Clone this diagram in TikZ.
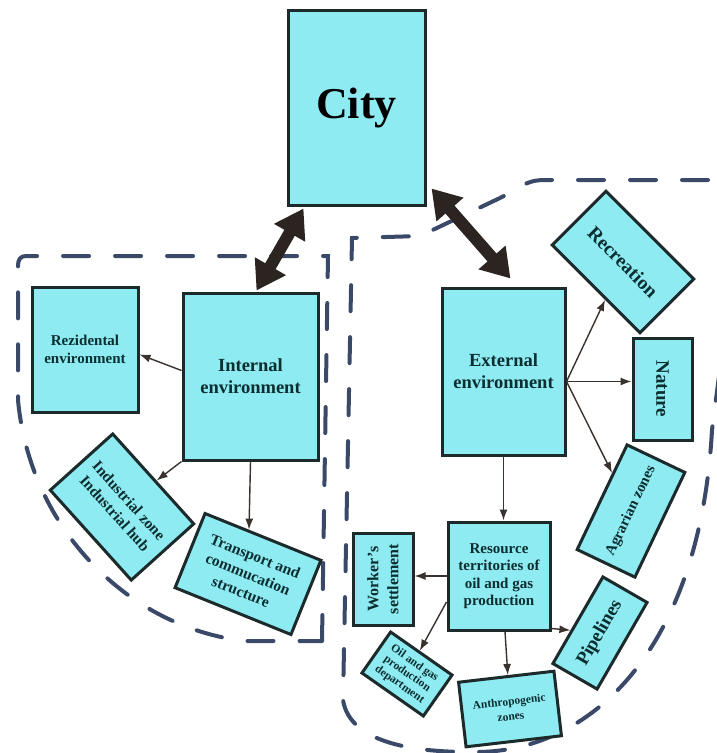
\documentclass[tikz,border=0pt]{standalone}
\usepackage{fontspec}
\setmainfont{Liberation Serif}
\usetikzlibrary{arrows.meta,calc}
\definecolor{boxfill}{HTML}{8FEBF2}
\definecolor{boxline}{HTML}{1C2A2B}
\definecolor{txtcol}{HTML}{0B2E30}
\definecolor{boundcol}{HTML}{3B4968}
\definecolor{thickcol}{HTML}{2B2420}
\definecolor{thincol}{HTML}{3A322E}
\begin{document}
\begin{tikzpicture}[x=1pt,y=-1pt,
  box/.style={draw=boxline, line width=3pt, fill=boxfill, text=txtcol, align=center, inner sep=0pt},
  fs/.style n args={2}{font=\bfseries\fontsize{#1}{#2}\selectfont},
  thinarrow/.style={draw=thincol, line width=1.4pt, -{Latex[length=11pt,width=8pt]}},
  bigarrow/.style={draw=thickcol, line width=12pt, {Triangle[length=28pt,width=34pt]}-{Triangle[length=28pt,width=34pt]}},
  boundary/.style={draw=boundcol, line width=4pt, dash pattern=on 26pt off 26pt, line cap=round}]
\useasboundingbox (0,0) rectangle (717,753);
\fill[white] (0,0) rectangle (717,753);
\begin{scope}
\clip (0,0) rectangle (717,753);
% left region
\draw[boundary] (322,641) -- (328,256) -- (26,256) .. controls (20,256) and (18,260) .. (18,266) -- (18,400)
  .. controls (30,530) and (130,628) .. (245,641) -- cycle;
% right region
\draw[boundary] (760,180) -- (545,180) .. controls (525,180) and (520,188) .. (500,198) -- (420,236) -- (352,238)
  -- (343,700) .. controls (350,745) and (420,752) .. (470,752)
  .. controls (590,755) and (700,650) .. (712,430) -- (725,330);
\end{scope}

% nodes
\node[box, minimum width=137pt, minimum height=195pt, text=black, fs={44}{50}] (city) at (356.5,107.5) {City};
\node[box, minimum width=135pt, minimum height=167pt, fs={18.5}{22}] (intern) at (250.5,376.5) {Internal\\environment};
\node[box, minimum width=106pt, minimum height=125pt, fs={15}{18}] (rez) at (85,349.5) {Rezidental\\environment};
\node[box, minimum width=121pt, minimum height=84pt, fs={15.5}{19}, rotate=-48] (ind) at (122,507) {Industrial zone\\Industrial hub};
\node[box, minimum width=125pt, minimum height=80pt, fs={15.5}{19}, rotate=-22] (trans) at (248,574) {Transport and\\commucation\\structure};
\node[box, minimum width=123pt, minimum height=167pt, fs={18.5}{22}] (ext) at (503.5,371.5) {External\\environment};
\node[box, minimum width=124pt, minimum height=76pt, fs={19.5}{23}, rotate=-45] (rec) at (623,262) {Recreation};
\node[box, minimum width=102pt, minimum height=59pt, fs={19}{23}, rotate=-90] (nat) at (662.5,389) {Nature};
\node[box, minimum width=116pt, minimum height=64pt, fs={15}{18}, rotate=64.5] (agr) at (631,511) {Agrarian zones};
\node[box, minimum width=102pt, minimum height=108pt, fs={15}{17.5}] (res) at (499,576) {Resource\\territories of\\oil and gas\\production};
\node[box, minimum width=92pt, minimum height=60pt, fs={16}{20}, rotate=90] (wor) at (383,579) {Worker's\\settlement};
\node[box, minimum width=75pt, minimum height=50pt, fs={11.5}{13}, rotate=-35] (oil) at (407,674) {Oil and gas\\production\\department};
\node[box, minimum width=96pt, minimum height=65pt, fs={11.5}{15}, rotate=6.6] (ant) at (510,709) {Anthropogenic\\zones};
\node[box, minimum width=100pt, minimum height=51pt, fs={19}{23}, rotate=60] (pip) at (600,633) {Pipelines};

% thick double arrows
\draw[bigarrow] ([xshift=17pt,yshift=-2pt]city.south west) -- ([xshift=75pt,yshift=1pt]intern.north west);
\draw[bigarrow] ([xshift=5pt,yshift=18pt]city.south east) -- ([xshift=70pt,yshift=8pt]ext.north west);

% thin arrows
\draw[thinarrow] ([yshift=6pt]intern.west) -- ([yshift=-5pt]rez.east);
\draw[thinarrow] (intern.south west) -- (ind);
\draw[thinarrow] (intern.south) -- (trans);
\coordinate (hub) at ([yshift=-10pt]ext.east);
\draw[thinarrow] (hub) -- (rec);
\draw[thinarrow] (hub) -- (hub -| nat.south);
\draw[thinarrow] (hub) -- (agr);
\draw[thinarrow] (ext.south) -- (ext.south |- res.north);
\draw[thinarrow] (res.west) -- (res.west -| wor.south);
\draw[thinarrow] ([yshift=-26pt]res.west) -- (oil);
\draw[thinarrow] ([xshift=6pt]res.south) -- (ant);
\draw[thinarrow] ([yshift=3pt]res.south east) -- (pip);
\end{tikzpicture}
\end{document}
